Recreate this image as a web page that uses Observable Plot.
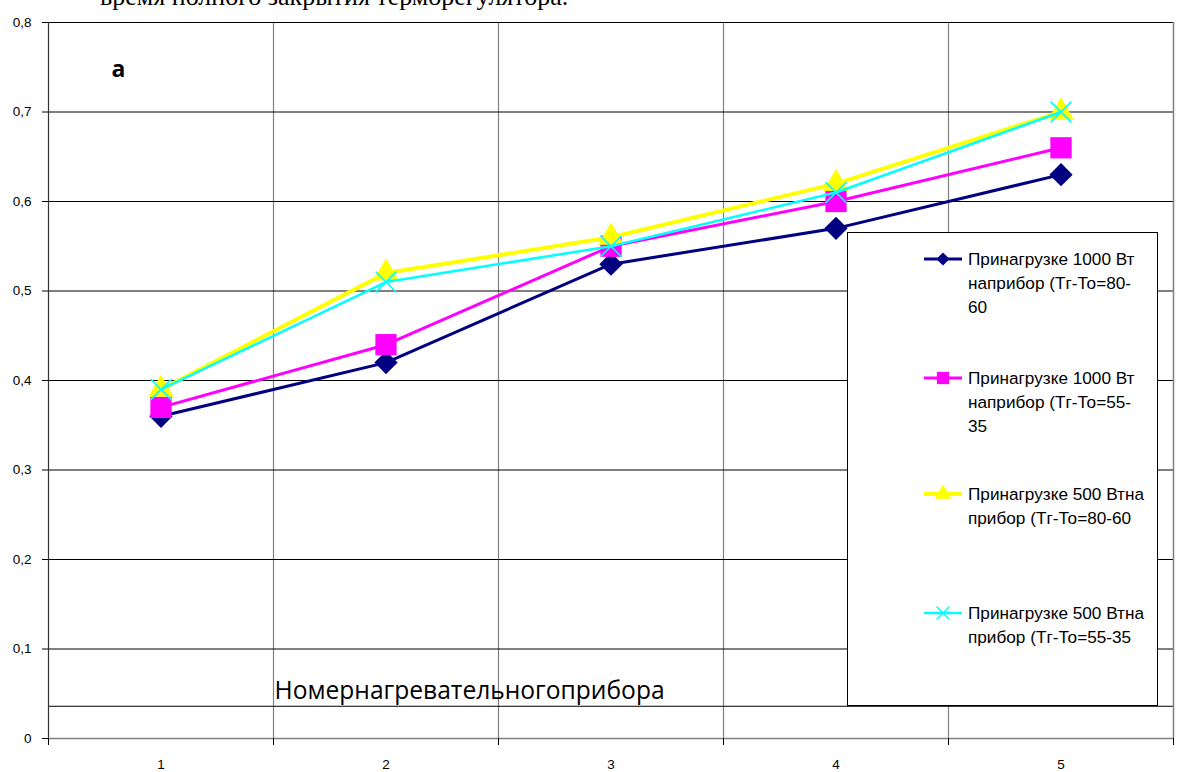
<!DOCTYPE html>
<html><head><meta charset="utf-8">
<script src="https://cdn.jsdelivr.net/npm/d3@7"></script>
<script src="https://cdn.jsdelivr.net/npm/@observablehq/plot@0.6"></script>
<style>
body{margin:0;background:#fff;}
#wrap{position:relative;width:1178px;height:772px;overflow:hidden;background:#fff;}
#wrap svg.plot{position:absolute;left:0;top:0;}
#caption{position:absolute;left:100px;top:-18px;font-family:"Liberation Serif","Times New Roman",serif;font-size:26px;line-height:30px;white-space:nowrap;color:#000;}
#legend{position:absolute;left:847px;top:232px;width:309px;height:472px;border:1px solid #000;background:#fff;box-sizing:content-box;}
.entry{position:absolute;left:0;}
.entry svg{position:absolute;left:76px;top:0;}
.entry .txt{position:absolute;left:120px;top:0;font-family:"Liberation Sans",Arial,sans-serif;font-size:17.2px;line-height:24px;white-space:nowrap;color:#000;}
</style></head><body><div id="wrap"><div id="caption"></div></div>
<script>
// ---- data ----
const heaters = [1, 2, 3, 4, 5];
const xTickLabels = ["1", "2", "3", "4", "5"];
const yTicks = [0, 0.1, 0.2, 0.3, 0.4, 0.5, 0.6, 0.7, 0.8];
const s1000_80_60 = [0.36, 0.42, 0.53, 0.57, 0.63];
const s1000_55_35 = [0.37, 0.44, 0.55, 0.60, 0.66];
const s500_80_60  = [0.39, 0.52, 0.56, 0.62, 0.70];
const s500_55_35  = [0.39, 0.51, 0.55, 0.61, 0.70];
const seriesNames = [
  "Принагрузке 1000 Вт наприбор (Тг-То=80-60",
  "Принагрузке 1000 Вт наприбор (Тг-То=55-35",
  "Принагрузке 500 Втна прибор (Тг-То=80-60",
  "Принагрузке 500 Втна прибор (Тг-То=55-35"
];
const legendLines = [
  ["Принагрузке 1000 Вт", "наприбор (Тг-То=80-", "60"],
  ["Принагрузке 1000 Вт", "наприбор (Тг-То=55-", "35"],
  ["Принагрузке 500 Втна", "прибор (Тг-То=80-60"],
  ["Принагрузке 500 Втна", "прибор (Тг-То=55-35"]
];
const captionText = "время полного закрытия терморегулятора.";
const panelLabel = "а";
const axisTitle = "Номернагревательногоприбора";
const boxLineValue = 0.036;

// ---- styles ----
const seriesValues = [s1000_80_60, s1000_55_35, s500_80_60, s500_55_35];
const styles = [
  {color: "#000080", width: 3, symbol: "diamond2", r: 10.5, lsym: d3.symbolDiamond2, lsize: 110},
  {color: "#FF00FF", width: 3, symbol: "square", r: 12, lsym: d3.symbolSquare, lsize: 150},
  {color: "#FFFF00", width: 4, symbol: "triangle", r: 9.5, lsym: d3.symbolTriangle, lsize: 120},
  {color: "#00FFFF", width: 2.5, symbol: "times", r: 9.5, lsym: d3.symbolTimes, lsize: 110}
];
const xEdges = heaters.map(h => h - 0.5).concat([heaters[heaters.length - 1] + 0.5]);

const seriesMarks = seriesValues.flatMap((vals, k) => {
  const rows = heaters.map((h, i) => ({heater: h, value: vals[i], series: seriesNames[k]}));
  const st = styles[k];
  const dotOpts = st.symbol === "times"
    ? {x: "heater", y: "value", symbol: st.symbol, r: st.r, stroke: st.color, strokeWidth: 1.6, fill: "none"}
    : {x: "heater", y: "value", symbol: st.symbol, r: st.r, fill: st.color, stroke: "none"};
  return [
    Plot.line(rows, {x: "heater", y: "value", stroke: st.color, strokeWidth: st.width}),
    Plot.dot(rows, dotOpts)
  ];
});

const fmt = d => d === 0 ? "0" : d.toFixed(1).replace(".", ",");

const chart = Plot.plot({
  width: 1178, height: 772,
  marginLeft: 48, marginRight: 5, marginTop: 22, marginBottom: 34,
  x: {type: "linear", domain: [xEdges[0], xEdges[xEdges.length - 1]], label: null},
  y: {domain: [0, 0.8], label: null},
  style: {background: "transparent", fontFamily: "'Liberation Sans', Arial, sans-serif", fontSize: "13px", color: "#000"},
  marks: [
    Plot.ruleX(xEdges.slice(1, -1), {stroke: "#808080", strokeWidth: 1.2}),
    Plot.ruleY(yTicks.slice(1), {stroke: "#000", strokeWidth: 1}),
    Plot.ruleY([boxLineValue], {stroke: "#000", strokeWidth: 1}),
    Plot.ruleX([xEdges[0]], {stroke: "#333", strokeWidth: 1.2}),
    Plot.ruleX([xEdges[xEdges.length - 1]], {stroke: "#808080", strokeWidth: 1.5}),
    Plot.ruleY([0], {stroke: "#808080", strokeWidth: 1.5}),
    Plot.axisY({ticks: yTicks, tickFormat: fmt, tickSize: 6, tickPadding: 11, fontSize: 13.5, label: null}),
    Plot.axisX({ticks: xEdges, tickFormat: () => "", tickSize: 7, label: null}),
    Plot.axisX({ticks: heaters, tickFormat: d => xTickLabels[heaters.indexOf(d)], tickSize: 0, tickPadding: 21, fontSize: 13.5, label: null}),
    ...seriesMarks,
    Plot.text([panelLabel], {frameAnchor: "top-left", dx: 63, dy: 54, textAnchor: "start", lineAnchor: "bottom", fontSize: 23, fontWeight: "bold", fontFamily: "'Open Sans', sans-serif"}),
    Plot.text([axisTitle], {frameAnchor: "bottom-left", dx: 226, dy: -40, textAnchor: "start", lineAnchor: "bottom", fontSize: 24.6, fontFamily: "'Open Sans', sans-serif"})
  ]
});
chart.classList.add("plot");
// enforce tick-label size
d3.select(chart).selectAll('g[aria-label="y-axis tick label"], g[aria-label="x-axis tick label"]')
  .style("font-size", "13.5px")
  .selectAll("text").style("font-size", "13.5px");
const wrap = document.getElementById("wrap");
wrap.insertBefore(chart, wrap.firstChild);
document.getElementById("caption").textContent = captionText;

// ---- legend ----
const legend = document.createElement("div");
legend.id = "legend";
const entryTops = [14, 133, 249, 368];
legendLines.forEach((lines, k) => {
  const st = styles[k];
  const e = document.createElement("div");
  e.className = "entry";
  e.style.top = entryTops[k] + "px";
  const svg = d3.create("svg").attr("width", 38).attr("height", 24);
  svg.append("line").attr("x1", 0).attr("x2", 38).attr("y1", 12).attr("y2", 12)
    .attr("stroke", st.color).attr("stroke-width", st.width);
  const p = svg.append("path").attr("transform", "translate(19,12)")
    .attr("d", d3.symbol(st.lsym, st.lsize)());
  if (st.symbol === "times") p.attr("fill", "none").attr("stroke", st.color).attr("stroke-width", 1.5);
  else p.attr("fill", st.color);
  e.appendChild(svg.node());
  const t = document.createElement("div");
  t.className = "txt";
  t.innerHTML = lines.map(l => l.replace(/&/g, "&amp;").replace(/</g, "&lt;")).join("<br>");
  e.appendChild(t);
  legend.appendChild(e);
});
wrap.appendChild(legend);
</script>
</body></html>
